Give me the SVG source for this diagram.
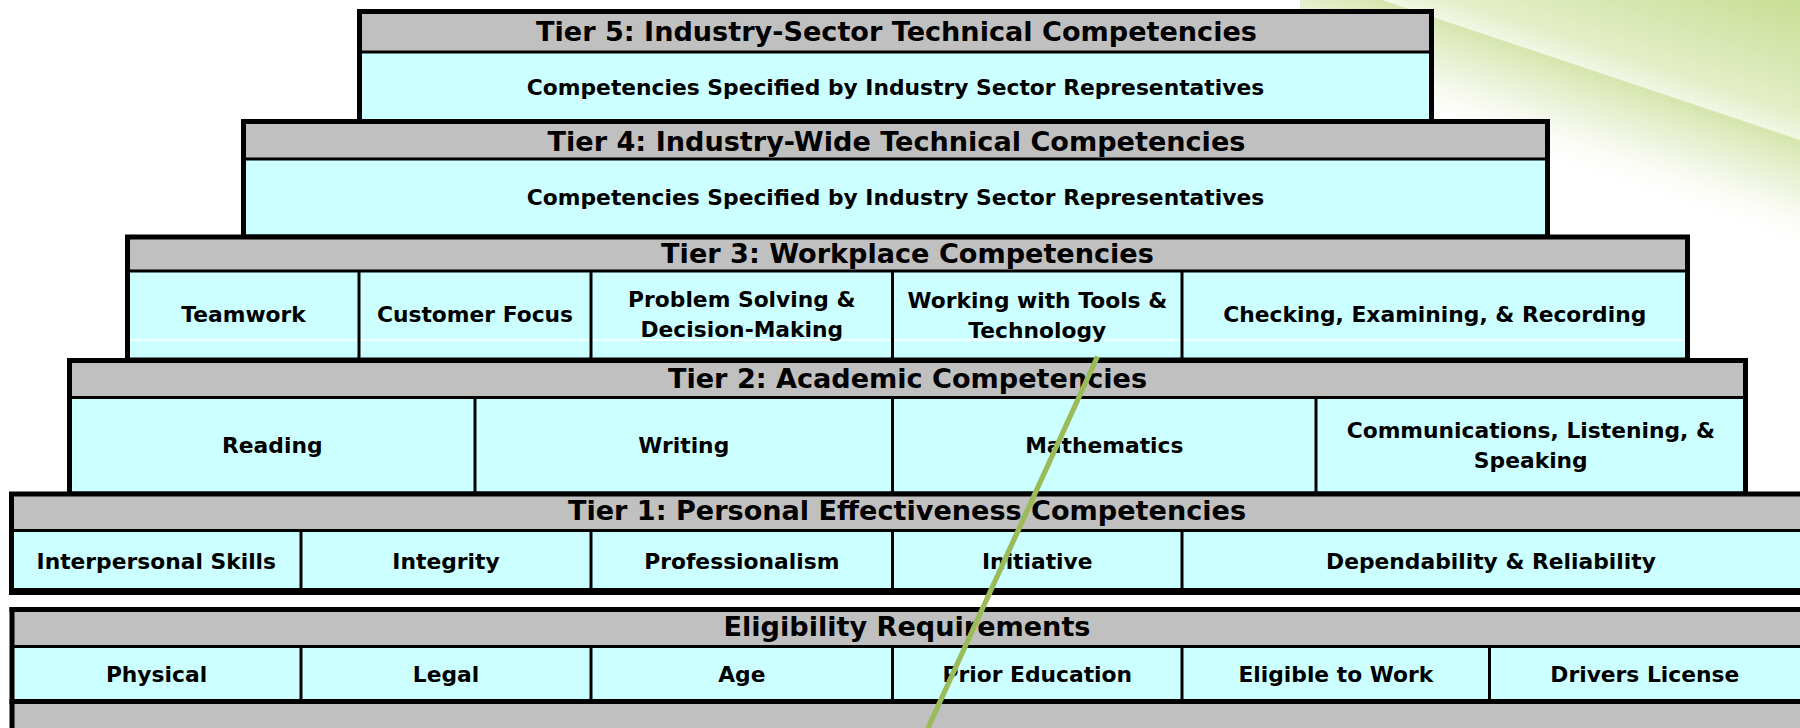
<svg xmlns="http://www.w3.org/2000/svg" width="1800" height="728" viewBox="0 0 1800 728">
  <defs>
    <style>
      .hd { fill: #C0C0C0; }
      .bd { fill: #CCFFFF; }
      .ob { fill: none; stroke: #000; stroke-width: 5; }
      .ln { stroke: #000; stroke-width: 3; fill: none; }
      .th { font-family: "DejaVu Sans", Verdana, sans-serif; font-weight: bold; font-size: 27.1px; text-anchor: middle; fill: #000; }
      .tc { font-family: "DejaVu Sans", Verdana, sans-serif; font-weight: bold; font-size: 21.8px; text-anchor: middle; fill: #000; }
    </style>
    <linearGradient id="gTop" gradientUnits="userSpaceOnUse" x1="1600" y1="73" x2="1650" y2="-77">
      <stop offset="0" stop-color="#f2f7e6"/>
      <stop offset="0.15" stop-color="#e4eec8"/>
      <stop offset="1" stop-color="#c2da88"/>
    </linearGradient>
    <linearGradient id="gGlow" gradientUnits="userSpaceOnUse" x1="1600" y1="73" x2="1566" y2="173">
      <stop offset="0" stop-color="#d4e4a8" stop-opacity="0.95"/>
      <stop offset="0.45" stop-color="#e6efcf" stop-opacity="0.7"/>
      <stop offset="1" stop-color="#ffffff" stop-opacity="0"/>
    </linearGradient>
  </defs>

  <g id="background">
    <rect x="0" y="0" width="1800" height="728" fill="#ffffff"/>
    <polygon points="1300,-30 1800,138 1800,300 1300,130" fill="url(#gGlow)"/>
    <polygon points="1382,0 1800,0 1800,140" fill="url(#gTop)"/>
  </g>

  <g id="tier5">
    <rect class="hd" x="359.5" y="11.5" width="1072" height="40.5"/>
    <rect class="bd" x="359.5" y="52" width="1072" height="69.5"/>
    <rect class="ob" x="359.5" y="11.5" width="1072" height="110"/>
    <line class="ln" x1="359.5" y1="52" x2="1431.5" y2="52"/>
    <text class="th" x="896.5" y="40.7">Tier 5: Industry-Sector Technical Competencies</text>
    <text class="tc" x="895.5" y="95">Competencies Specified by Industry Sector Representatives</text>
  </g>

  <g id="tier4">
    <rect class="hd" x="243.5" y="121.5" width="1304" height="37.5"/>
    <rect class="bd" x="243.5" y="159" width="1304" height="78"/>
    <rect class="ob" x="243.5" y="121.5" width="1304" height="115.5"/>
    <line class="ln" x1="243.5" y1="159" x2="1547.5" y2="159"/>
    <text class="th" x="896.5" y="150.7">Tier 4: Industry-Wide Technical Competencies</text>
    <text class="tc" x="895.5" y="205">Competencies Specified by Industry Sector Representatives</text>
  </g>

  <g id="tier3">
    <rect class="hd" x="127.5" y="237" width="1560" height="34"/>
    <rect class="bd" x="127.5" y="271" width="1560" height="89"/>
    <line x1="130" y1="340" x2="1685" y2="340" stroke="#ffffff" stroke-width="1.5"/>
    <rect class="ob" x="127.5" y="237" width="1560" height="123"/>
    <line class="ln" x1="127.5" y1="271" x2="1687.5" y2="271"/>
    <line class="ln" x1="359" y1="271" x2="359" y2="360"/>
    <line class="ln" x1="591" y1="271" x2="591" y2="360"/>
    <line class="ln" x1="892.5" y1="271" x2="892.5" y2="360"/>
    <line class="ln" x1="1182" y1="271" x2="1182" y2="360"/>
    <text class="th" x="907.5" y="263">Tier 3: Workplace Competencies</text>
    <text class="tc" x="243.5" y="322">Teamwork</text>
    <text class="tc" x="475" y="322">Customer Focus</text>
    <text class="tc" x="741.8" y="307">Problem Solving &amp;</text>
    <text class="tc" x="741.8" y="337">Decision-Making</text>
    <text class="tc" x="1037.3" y="308">Working with Tools &amp;</text>
    <text class="tc" x="1037.3" y="338">Technology</text>
    <text class="tc" x="1434.8" y="322">Checking, Examining, &amp; Recording</text>
  </g>

  <g id="tier2">
    <rect class="hd" x="69.5" y="360.5" width="1676" height="37"/>
    <rect class="bd" x="69.5" y="397.5" width="1676" height="96.5"/>
    <rect class="ob" x="69.5" y="360.5" width="1676" height="133.5"/>
    <line class="ln" x1="69.5" y1="397.5" x2="1745.5" y2="397.5"/>
    <line class="ln" x1="475" y1="397.5" x2="475" y2="494"/>
    <line class="ln" x1="892.5" y1="397.5" x2="892.5" y2="494"/>
    <line class="ln" x1="1316" y1="397.5" x2="1316" y2="494"/>
    <text class="th" x="907.5" y="387.5">Tier 2: Academic Competencies</text>
    <text class="tc" x="272.3" y="453">Reading</text>
    <text class="tc" x="683.8" y="453">Writing</text>
    <text class="tc" x="1104.3" y="453">Mathematics</text>
    <text class="tc" x="1530.8" y="438">Communications, Listening, &amp;</text>
    <text class="tc" x="1530.8" y="468">Speaking</text>
  </g>

  <g id="tier1">
    <rect class="hd" x="11.5" y="494" width="1800" height="36.5"/>
    <rect class="bd" x="11.5" y="530.5" width="1800" height="61"/>
    <rect class="ob" x="11.5" y="494" width="1800" height="97.5"/>
    <line x1="9" y1="591.5" x2="1800" y2="591.5" stroke="#000" stroke-width="7"/>
    <line class="ln" x1="11.5" y1="530.5" x2="1800" y2="530.5"/>
    <line class="ln" x1="301" y1="530.5" x2="301" y2="591.5"/>
    <line class="ln" x1="591" y1="530.5" x2="591" y2="591.5"/>
    <line class="ln" x1="892.5" y1="530.5" x2="892.5" y2="591.5"/>
    <line class="ln" x1="1182" y1="530.5" x2="1182" y2="591.5"/>
    <text class="th" x="907" y="520">Tier 1: Personal Effectiveness Competencies</text>
    <text class="tc" x="156.3" y="569">Interpersonal Skills</text>
    <text class="tc" x="446" y="569">Integrity</text>
    <text class="tc" x="741.8" y="569">Professionalism</text>
    <text class="tc" x="1037.3" y="569">Initiative</text>
    <text class="tc" x="1491" y="569">Dependability &amp; Reliability</text>
  </g>

  <g id="eligibility">
    <rect class="hd" x="12" y="609.5" width="1800" height="37"/>
    <rect class="bd" x="12" y="646.5" width="1800" height="55"/>
    <rect class="hd" x="12" y="701.5" width="1800" height="30"/>
    <line class="ln" x1="12" y1="607" x2="12" y2="728" style="stroke-width:5"/>
    <line class="ln" x1="9.5" y1="609.5" x2="1800" y2="609.5" style="stroke-width:5"/>
    <line class="ln" x1="12" y1="646.5" x2="1800" y2="646.5"/>
    <line class="ln" x1="9.5" y1="701.5" x2="1800" y2="701.5" style="stroke-width:5"/>
    <line class="ln" x1="301" y1="646.5" x2="301" y2="701.5"/>
    <line class="ln" x1="591" y1="646.5" x2="591" y2="701.5"/>
    <line class="ln" x1="892.5" y1="646.5" x2="892.5" y2="701.5"/>
    <line class="ln" x1="1182" y1="646.5" x2="1182" y2="701.5"/>
    <line class="ln" x1="1489.5" y1="646.5" x2="1489.5" y2="701.5"/>
    <text class="th" x="907" y="635.5">Eligibility Requirements</text>
    <text class="tc" x="156.5" y="682">Physical</text>
    <text class="tc" x="446" y="682">Legal</text>
    <text class="tc" x="741.8" y="682">Age</text>
    <text class="tc" x="1037.3" y="682">Prior Education</text>
    <text class="tc" x="1335.8" y="682">Eligible to Work</text>
    <text class="tc" x="1644.8" y="682">Drivers License</text>
  </g>

  <g id="green-line">
    <line x1="1097.5" y1="356.5" x2="928" y2="728" stroke="#9BBB59" stroke-width="5.2"/>
  </g>
</svg>
